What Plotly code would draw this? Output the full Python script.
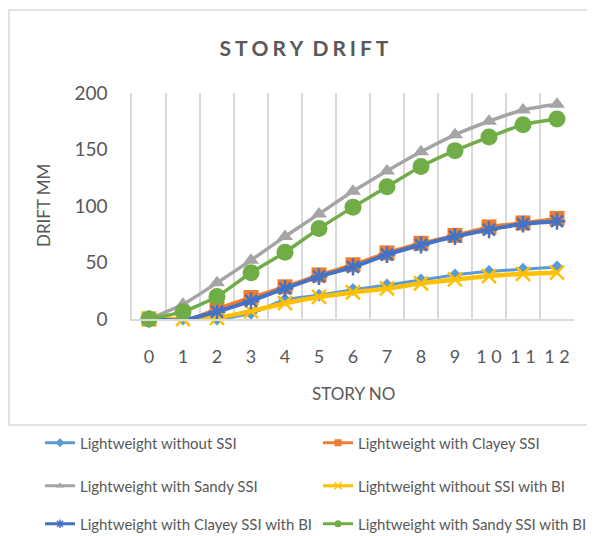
import plotly.graph_objects as go

# Data
story_no = [0, 1, 2, 3, 4, 5, 6, 7, 8, 9, 10, 11, 12]
story_labels = ["0", "1", "2", "3", "4", "5", "6", "7", "8", "9", "1 0", "1 1", "1 2"]

without_ssi = [0, 0, 0, 5, 17, 21, 26, 30, 34.5, 39, 42, 44, 46]
clayey_ssi = [0, -2, 9, 19, 28.5, 39, 48, 58.5, 67, 74, 81.5, 85, 89]
sandy_ssi = [0, 13, 32, 52, 73, 93, 113, 131, 148, 163, 175, 185, 190]
without_ssi_bi = [0, 0, 1, 7, 14, 19.5, 23.5, 27, 31.5, 35, 38, 40, 41]
clayey_ssi_bi = [0, -1, 6.5, 16, 27, 37.5, 46, 57, 65.5, 73, 79, 84, 86.5]
sandy_ssi_bi = [0, 6.5, 20, 41, 59, 80, 99, 117, 135, 149, 161, 172, 177]

# the page body has an 8px margin, so the figure is 8px smaller each way
OFF = 8
W, H = 595 - OFF, 536 - OFF
L, R, T, B = 132 - OFF, 21, 93 - OFF, 217
TXT = "#595959"
GRID = "#d9d9d9"
FONT = "Lato, Carlito, 'Liberation Sans', sans-serif"

series = [
    ("Lightweight without SSI", without_ssi, "#5B9BD5", "diamond", 10, 3),
    ("Lightweight with Clayey SSI", clayey_ssi, "#ED7D31", "square", 15, 3.5),
    ("Lightweight with Sandy SSI", sandy_ssi, "#A5A5A5", "triangle-up", 14, 3.5),
    ("Lightweight without SSI with BI", without_ssi_bi, "#FFC000", "x-thin-open", 14, 4.5),
    ("Lightweight with Clayey SSI with BI", clayey_ssi_bi, "#4472C4", "asterisk-open", 14, 4),
    ("Lightweight with Sandy SSI with BI", sandy_ssi_bi, "#70AD47", "circle", 17, 3.5),
]

# legend slots: (column x, row y) in pixels, Excel-style two columns
legend_cols = [32, 310, 32, 310, 32, 310]
legend_rows = [435, 435, 478, 478, 516, 516]

fig = go.Figure()
for name, vals, color, sym, msize, lw in series:
    open_sym = sym.endswith("open")
    fig.add_trace(go.Scatter(
        x=story_no, y=vals, name=name, mode="lines+markers",
        line=dict(color=color, width=lw, shape="spline", smoothing=0.6),
        marker=dict(color=color, symbol=sym, size=msize,
                    line=dict(width=2.5 if open_sym else 0, color=color)),
        cliponaxis=False, showlegend=False,
    ))

# small legend samples like Excel's legend keys
for i, (name, vals, color, sym, msize, lw) in enumerate(series):
    open_sym = sym.endswith("open")
    fig.add_trace(go.Scatter(
        x=[None], y=[None], name=name, mode="lines+markers",
        line=dict(color=color, width=3),
        marker=dict(color=color, symbol=sym, size=7,
                    line=dict(width=1.5 if open_sym else 0, color=color)),
        legend="legend" if i == 0 else f"legend{i + 1}",
    ))

legends = {}
for i in range(len(series)):
    key = "legend" if i == 0 else f"legend{i + 1}"
    legends[key] = dict(
        xref="container", yref="container",
        x=legend_cols[i] / W, xanchor="left",
        y=1 - legend_rows[i] / H, yanchor="middle",
        font=dict(family=FONT, size=15, color=TXT),
        bgcolor="rgba(0,0,0,0)", borderwidth=0,
    )

pw, ph = W - L - R, H - T - B


def px_x(v):
    return (v - OFF - L) / pw


def px_y(v):
    return (H - B - (v - OFF)) / ph


fig.update_layout(
    width=W, height=H,
    margin=dict(l=L, r=R, t=T, b=B, autoexpand=False),
    paper_bgcolor="white", plot_bgcolor="white",
    font=dict(family=FONT, color=TXT),
    title=dict(
        text="<b>S\u2009\u200aT\u2009\u200aO\u2009\u200aR\u2009\u200aY\u2009 \u200aD\u2009\u200aR\u2009\u200aI\u2009\u200aF\u2009\u200aT</b>",
        x=296 / W, xanchor="center", xref="container",
        y=1 - 41 / H, yanchor="middle", yref="container",
        font=dict(family=FONT, size=21, color=TXT),
    ),
    xaxis=dict(
        range=[-0.5, 12.5], automargin=False,
        tickmode="array", tickvals=story_no, ticktext=story_labels,
        showgrid=False, zeroline=False,
        showline=True, linecolor=GRID, linewidth=2,
        ticks="", ticklabelstandoff=20,
        tickfont=dict(size=18, color=TXT),
        minor=dict(tickvals=[v - 0.5 for v in story_no] + [12.5],
                   showgrid=True, gridcolor=GRID, gridwidth=2, ticks=""),
    ),
    yaxis=dict(
        range=[0, 200], automargin=False, tickvals=[0, 50, 100, 150, 200],
        showgrid=False, zeroline=False,
        showline=True, linecolor=GRID, linewidth=1.5,
        ticks="", ticklabelstandoff=19,
        tickfont=dict(size=19, color=TXT),
    ),
    **legends,
)

# axis titles
fig.add_annotation(text="STORY NO", xref="paper", yref="paper",
                   x=px_x(353), y=px_y(393), showarrow=False,
                   xanchor="center", yanchor="middle",
                   font=dict(family=FONT, size=17, color=TXT))
fig.add_annotation(text="DRIFT MM", xref="paper", yref="paper",
                   x=px_x(43), y=px_y(206), showarrow=False, textangle=-90,
                   xanchor="center", yanchor="middle",
                   font=dict(family=FONT, size=17, color=TXT))

# chart area border
fig.add_shape(type="rect", xref="paper", yref="paper", layer="below",
              x0=px_x(9), x1=px_x(594), y0=px_y(425), y1=px_y(10),
              line=dict(color=GRID, width=1.5))

fig.write_html("out.html")
